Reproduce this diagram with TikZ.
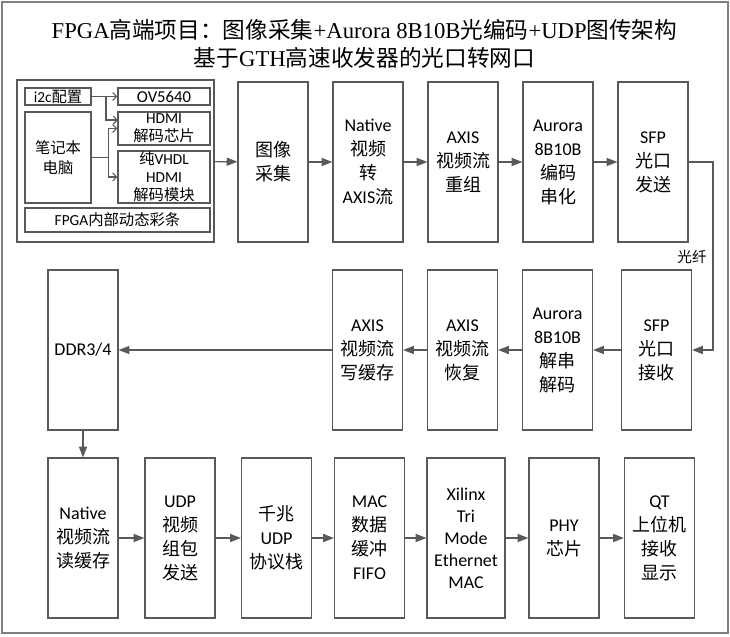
\documentclass[tikz,border=0pt]{standalone}
\usepackage{fontspec}
\setmainfont{Carlito}
\newfontfamily\cjkfont{Noto Sans CJK SC}
\newfontfamily\titlelatin{Liberation Serif}
\usepackage{xcolor}
\usetikzlibrary{arrows.meta,calc,positioning}
% CJK characters switch to the CJK family by themselves
\chardef\cjkclass=7
\newcommand{\cjkrange}[2]{\count255=#1
  \loop\XeTeXcharclass\count255=\cjkclass\ifnum\count255<#2\advance\count255 by 1\repeat}
\cjkrange{"3000}{"303F}
\cjkrange{"4E00}{"9FFF}
\cjkrange{"FF00}{"FFEF}
\XeTeXinterchartoks 0 \cjkclass={\begingroup\cjkfont}
\XeTeXinterchartoks 4095 \cjkclass={\begingroup\cjkfont}
\XeTeXinterchartoks \cjkclass 0={\endgroup}
\XeTeXinterchartoks \cjkclass 4095={\endgroup}
\definecolor{linegray}{HTML}{595959}
\definecolor{framegray}{HTML}{808080}
\tikzset{
  block/.style={draw=linegray,line width=0.9pt,minimum width=52.5pt,minimum height=120pt,
    inner sep=0pt,align=center,font=\fontsize{13.5pt}{18pt}\selectfont},
  small/.style={draw=linegray,line width=0.9pt,inner sep=0pt,align=center,
    font=\fontsize{11.5pt}{13.5pt}\selectfont},
  link/.style={draw=linegray,line width=0.9pt,-{Triangle[length=8pt,width=6pt]}},
  thinlink/.style={draw=linegray,line width=0.8pt,-{Straight Barb[length=3pt,width=6pt]}},
}
\newcommand{\blockat}[4][]{\node[block,#1] (#2) at #3 {#4};}
\newcommand{\boxat}[6][]{\node[small,minimum width=#4*0.75pt,minimum height=#5*0.75pt,#1] (#2) at #3 {#6};}
\newcommand{\connect}[3][link]{\draw[#1] (#2)--(#3) ;}

\begin{document}
\XeTeXinterchartokenstate=1
\begin{tikzpicture}[x=0.75pt,y=-0.75pt]
        \useasboundingbox (0,0) rectangle (730,636);
        \draw[framegray,line width=1.2pt] (2,2) rectangle (728,633);
        \node[align=center,font=\fontsize{17pt}{21pt}\titlelatin] (title) at (364.5,44)
            {FPGA高端项目：图像采集+Aurora 8B10B光编码+UDP图传架构\\基于GTH高速收发器的光口转网口};
        % video sources
        \boxat{src}{(115.5,161)}{197}{162}{}
        \boxat{i2c}{(58,96.5)}{66}{17}{i2c配置}
        \boxat[font=\fontsize{11.5pt}{15pt}\selectfont]{pc}{(58,157.5)}{66}{91}{笔记本\\电脑}
        \boxat[font=\fontsize{12.5pt}{13.5pt}\selectfont]{ov}{(164,96.5)}{92}{17}{OV5640}
        \boxat{hdmi}{(164,128.5)}{92}{33}{HDMI\\解码芯片}
        \boxat{vhdl}{(164,177)}{92}{52}{纯VHDL\\HDMI\\解码模块}
        \boxat{bar}{(117.5,220)}{185}{24}{FPGA内部动态彩条}
        \coordinate (ib) at (106,96.5);
        \coordinate (hdmiin) at (118,120);
        \coordinate (lp) at (108.5,157.5);
        \connect[thinlink]{i2c}{ov}
        \draw[thinlink] (ib) |- (hdmiin);
        \draw[thinlink] (pc.east) -- (lp) |- (hdmi.west);
        \draw[thinlink] (lp) |- (vhdl.west);
        % top row
        \blockat{cap}{(273,162)}{图像\\采集}
        \blockat{n2a}{(368,162)}{Native\\视频\\转\\AXIS流}
        \blockat{regroup}{(463,162)}{AXIS\\视频流\\重组}
        \blockat{enc}{(558,162)}{Aurora\\8B10B\\编码\\串化}
        \blockat{sfptx}{(653,162)}{SFP\\光口\\发送}
        \connect{src}{cap}
        \connect{cap}{n2a}
        \connect{n2a}{regroup}
        \connect{regroup}{enc}
        \connect{enc}{sfptx}
        % middle row
        \blockat{ddr}{(83,350)}{DDR3/4}
        \blockat{wrbuf}{(367.5,350)}{AXIS\\视频流\\写缓存}
        \blockat{rec}{(462.5,350)}{AXIS\\视频流\\恢复}
        \blockat{dec}{(557.5,350)}{Aurora\\8B10B\\解串\\解码}
        \blockat{sfprx}{(656.5,350)}{SFP\\光口\\接收}
        \coordinate (fiber) at (713,162);
        \draw[link] (sfptx.east) -- (fiber) |- (sfprx.east);
        \node[font=\fontsize{11pt}{13pt}\selectfont] (fiberlbl) at (692,257) {光纤};
        \connect{sfprx}{dec}
        \connect{dec}{rec}
        \connect{rec}{wrbuf}
        \connect{wrbuf}{ddr}
        % bottom row
        \blockat{rdbuf}{(83,538)}{Native\\视频流\\读缓存}
        \blockat{pack}{(180,538)}{UDP\\视频\\组包\\发送}
        \blockat{udp}{(276.5,538)}{千兆\\UDP\\协议栈}
        \blockat{macfifo}{(369.5,538)}{MAC\\数据\\缓冲\\FIFO}
        \blockat[minimum width=58.5pt,font=\fontsize{13.5pt}{16.5pt}\selectfont]{temac}{(466,538)}{Xilinx\\Tri\\Mode\\Ethernet\\MAC}
        \blockat{phy}{(564,538)}{PHY\\芯片}
        \blockat{qt}{(659.5,538)}{QT\\上位机\\接收\\显示}
        \connect{ddr}{rdbuf}
        \connect{rdbuf}{pack}
        \connect{pack}{udp}
        \connect{udp}{macfifo}
        \connect{macfifo}{temac}
        \connect{temac}{phy}
        \connect{phy}{qt}
    \end{tikzpicture}
\end{document}
